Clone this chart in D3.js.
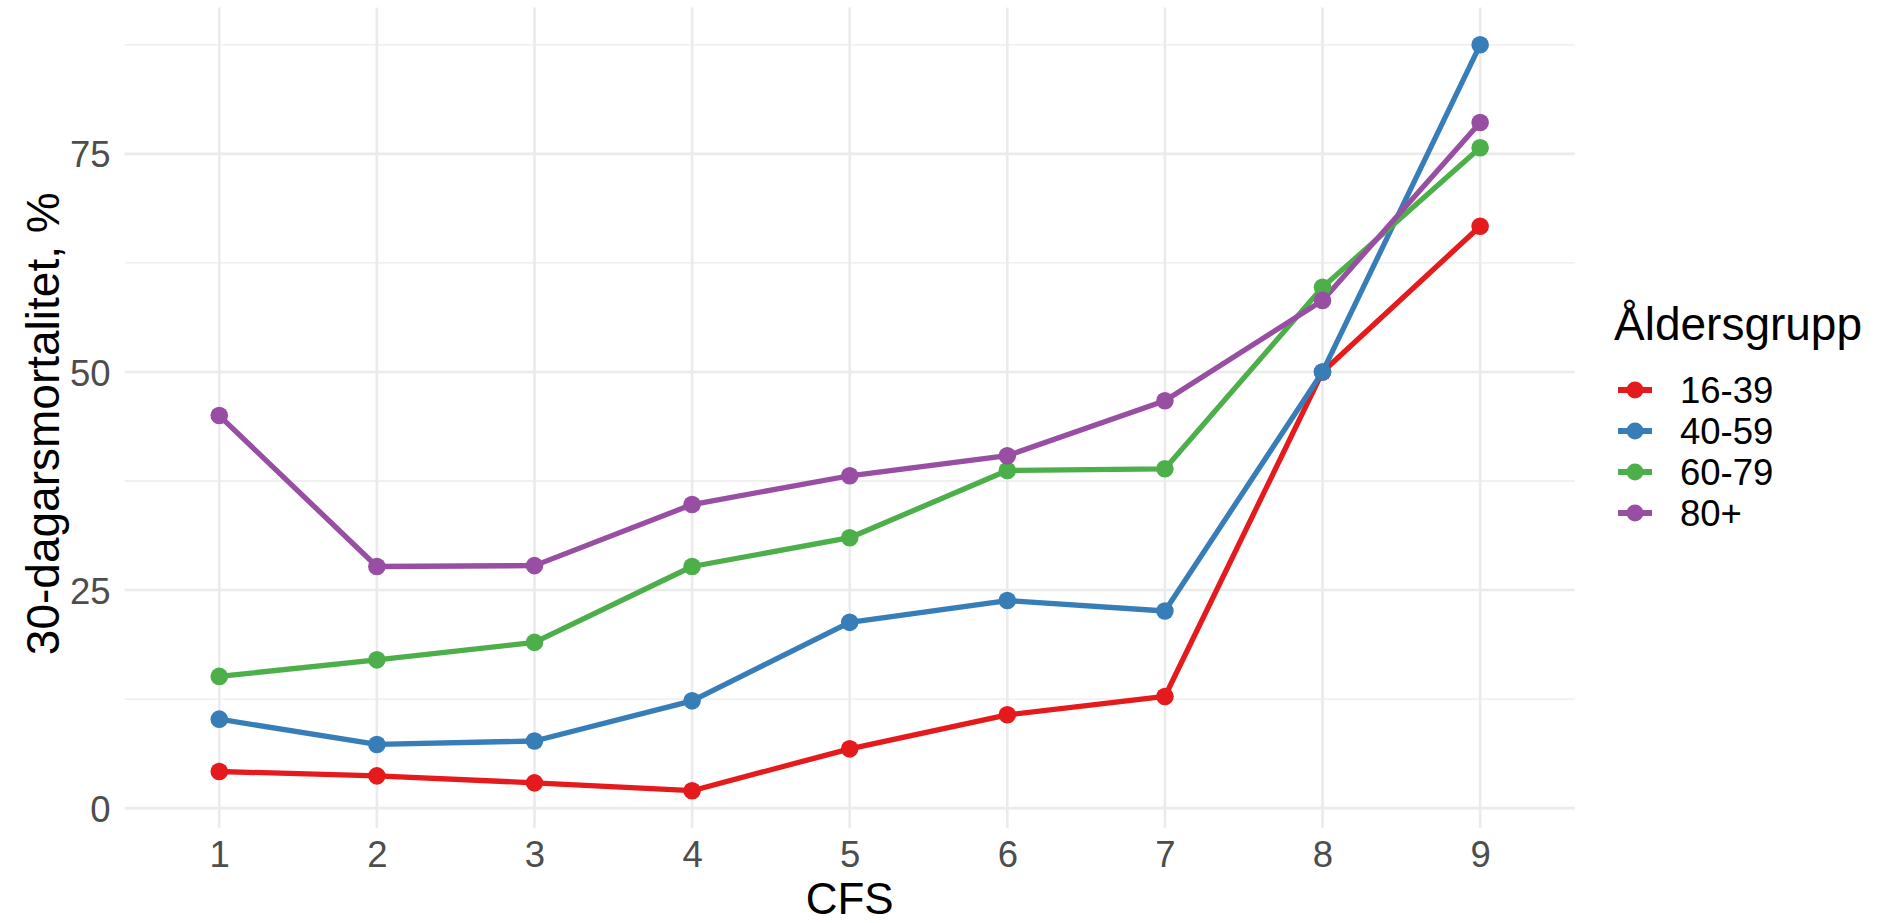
<!DOCTYPE html>
<html>
<head>
<meta charset="utf-8">
<script src="https://cdn.jsdelivr.net/npm/d3@7"></script>
<style>
html,body{margin:0;padding:0;background:#fff;}
svg{display:block;font-family:"Liberation Sans",Arial,sans-serif;}
</style>
</head>
<body>
<svg id="chart" width="1885" height="923"></svg>
<script>
const cfs = [1,2,3,4,5,6,7,8,9];
const groups = ["16-39","40-59","60-79","80+"];
const v1639 = [4.2,3.7,2.9,2.0,6.8,10.7,12.8,50.0,66.7];
const v4059 = [10.2,7.3,7.7,12.3,21.3,23.8,22.6,50.0,87.5];
const v6079 = [15.1,17.0,19.0,27.7,31.0,38.7,38.9,59.7,75.7];
const v80 = [45.0,27.7,27.8,34.8,38.1,40.4,46.7,58.2,78.6];
const yTicks = [0,25,50,75];
const yMinor = [12.5,37.5,62.5,87.5];
const colors = ["#E41A1C","#377EB8","#4DAF4A","#984EA3"];
const seriesValues = [v1639, v4059, v6079, v80];

(function(){
const svg = d3.select("#chart");
const pLeft = 124.7, pRight = 1574.7, pTop = 7.5, pBottom = 828;
const tickFont = 36.5, titleFont = 46;

const allVals = seriesValues.flat();
const yMin = d3.min(allVals), yMax = d3.max(allVals);
const ypad = (yMax - yMin) * 0.05;
const x = d3.scaleLinear().domain([0.4, 9.6]).range([pLeft, pRight]);
const y = d3.scaleLinear().domain([yMin - ypad, yMax + ypad]).range([pBottom, pTop]);

const grid = svg.append("g");
grid.selectAll("line.minor").data(yMinor).enter().append("line")
  .attr("x1", pLeft).attr("x2", pRight)
  .attr("y1", d => y(d)).attr("y2", d => y(d))
  .attr("stroke", "#EBEBEB").attr("stroke-width", 1.3);
grid.selectAll("line.majy").data(yTicks).enter().append("line")
  .attr("x1", pLeft).attr("x2", pRight)
  .attr("y1", d => y(d)).attr("y2", d => y(d))
  .attr("stroke", "#EBEBEB").attr("stroke-width", 2.6);
grid.selectAll("line.majx").data(cfs).enter().append("line")
  .attr("x1", d => x(d)).attr("x2", d => x(d))
  .attr("y1", pTop).attr("y2", pBottom)
  .attr("stroke", "#EBEBEB").attr("stroke-width", 2.6);

const xAxis = d3.axisBottom(x).tickValues(cfs).tickSize(0).tickPadding(0).tickFormat(d3.format("d"));
const gx = svg.append("g").attr("transform", `translate(0,${pBottom})`).call(xAxis);
gx.select(".domain").remove();
gx.selectAll("text").attr("fill", "#4D4D4D").attr("font-size", tickFont).attr("dy", null)
  .attr("y", 38.5).attr("font-family", "Liberation Sans, Arial, sans-serif");

const yAxis = d3.axisLeft(y).tickValues(yTicks).tickSize(0).tickPadding(0).tickFormat(d3.format("d"));
const gy = svg.append("g").attr("transform", `translate(110.5,0)`).call(yAxis);
gy.select(".domain").remove();
gy.selectAll("text").attr("fill", "#4D4D4D").attr("font-size", tickFont).attr("x", 0)
  .attr("dy", "0.36em").attr("font-family", "Liberation Sans, Arial, sans-serif");

svg.append("text").attr("x", (pLeft + pRight) / 2).attr("y", 913.5)
  .attr("text-anchor", "middle").attr("font-size", 44).attr("fill", "#000").text("CFS");
svg.append("text").attr("transform", `translate(59,${(pTop + pBottom) / 2 + 6}) rotate(-90)`)
  .attr("text-anchor", "middle").attr("font-size", titleFont).attr("fill", "#000")
  .text("30-dagarsmortalitet, %");

const line = d3.line().x((d, i) => x(cfs[i])).y(d => y(d));
seriesValues.forEach((vals, k) => {
  svg.append("path").datum(vals).attr("d", line)
    .attr("fill", "none").attr("stroke", colors[k]).attr("stroke-width", 5.3)
    .attr("stroke-linejoin", "round");
});
seriesValues.forEach((vals, k) => {
  svg.append("g").selectAll("circle").data(vals).enter().append("circle")
    .attr("cx", (d, i) => x(cfs[i])).attr("cy", d => y(d)).attr("r", 8.8)
    .attr("fill", colors[k]);
});

const lg = svg.append("g");
lg.append("text").attr("x", 1614).attr("y", 340).attr("font-size", titleFont).attr("fill", "#000").text("Åldersgrupp");
groups.forEach((g, i) => {
  const cy = 390 + i * 41;
  lg.append("line").attr("x1", 1618).attr("x2", 1652).attr("y1", cy).attr("y2", cy)
    .attr("stroke", colors[i]).attr("stroke-width", 6);
  lg.append("circle").attr("cx", 1635).attr("cy", cy).attr("r", 8.5).attr("fill", colors[i]);
  lg.append("text").attr("x", 1680).attr("y", cy).attr("dy", "0.36em")
    .attr("font-size", tickFont).attr("fill", "#000").text(g);
});
})();
</script>
</body>
</html>
